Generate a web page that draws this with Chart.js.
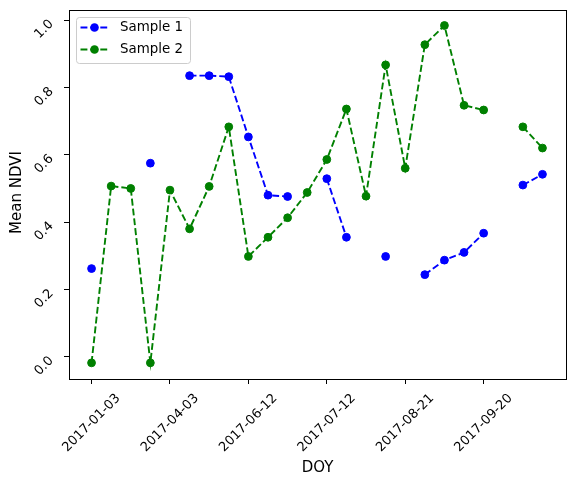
<!DOCTYPE html>
<html>
<head>
<meta charset="utf-8">
<script src="https://cdn.jsdelivr.net/npm/chart.js@4"></script>
<style>
    body { margin: 0; background: #fff; }
    #wrap { width: 574px; height: 489px; }
</style>
</head>
<body>
<div id="wrap"><canvas id="ndviChart" width="574" height="489"></canvas></div>
<script>
// observation index (categorical x axis) and the dates shown on the axis
const obsIndex = [0, 1, 2, 3, 4, 5, 6, 7, 8, 9, 10, 11, 12, 13, 14, 15, 16, 17, 18, 19, 20, 21, 22, 23];
const tickIndex = [0, 4, 8, 12, 16, 20];
const tickLabels = ['2017-01-03', '2017-04-03', '2017-06-12', '2017-07-12', '2017-08-21', '2017-09-20'];
const yTicks = [0.0, 0.2, 0.4, 0.6, 0.8, 1.0];

const sample1 = [0.262, null, null, 0.575, null, 0.835, 0.835, 0.832, 0.653, 0.480, 0.476, null,
    0.529, 0.355, null, 0.298, null, 0.244, 0.287, 0.310, 0.367, null, 0.510, 0.542];
const sample2 = [-0.018, 0.507, 0.500, -0.018, 0.495, 0.380, 0.506, 0.683, 0.298, 0.355, 0.413, 0.488,
    0.586, 0.736, 0.477, 0.867, 0.560, 0.927, 0.984, 0.747, 0.733, null, 0.683, 0.620];

const FONT = '"DejaVu Sans", sans-serif';

function series(label, values, color, order) {
    return {
        label: label,
        data: obsIndex.map((x, i) => ({ x: x, y: values[i] })),
        borderColor: color,
        backgroundColor: color,
        borderWidth: 1.9,
        borderDash: [6.9, 3],
        pointRadius: 3.9,
        pointBorderWidth: 1,
        pointBorderColor: color,
        pointBackgroundColor: color,
        spanGaps: false,
        tension: 0,
        order: order
    };
}

// frame, rotated tick labels, axis titles and the legend box
const decorations = {
    id: 'decorations',
    afterDraw(chart) {
        const ctx = chart.ctx;
        const a = chart.chartArea;
        const xs = chart.scales.x;
        const ys = chart.scales.y;
        const r = Math.SQRT1_2;
        ctx.save();

        ctx.strokeStyle = '#000';
        ctx.lineWidth = 1;
        ctx.strokeRect(Math.round(a.left) + 0.5, Math.round(a.top) + 0.5,
            Math.round(a.right - a.left), Math.round(a.bottom - a.top));

        ctx.fillStyle = '#000';
        ctx.font = '13px ' + FONT;
        ctx.textAlign = 'right';
        ctx.textBaseline = 'middle';
        const h = 9.4;

        xs.ticks.forEach((t, i) => {
            const label = tickLabels[i];
            const w = ctx.measureText(label).width;
            const px = xs.getPixelForValue(t.value);
            const ex = px + (w + h) * r / 2 - h / 2 * r;
            const ey = a.bottom + 14 + h / 2 * r;
            ctx.save();
            ctx.translate(ex, ey);
            ctx.rotate(-Math.PI / 4);
            ctx.fillText(label, 0, 0);
            ctx.restore();
        });

        ys.ticks.forEach((t) => {
            const py = ys.getPixelForValue(t.value);
            ctx.save();
            ctx.translate(a.left - 17.5, py + 2);
            ctx.rotate(-Math.PI / 4);
            ctx.fillText(t.value.toFixed(1), 0, 0);
            ctx.restore();
        });

        // axis titles
        ctx.font = '15px ' + FONT;
        ctx.textAlign = 'center';
        ctx.fillText('DOY', (a.left + a.right) / 2, a.bottom + 89.5);
        ctx.save();
        ctx.translate(17.5, (a.top + a.bottom) / 2 - 2);
        ctx.rotate(-Math.PI / 2);
        ctx.fillText('Mean NDVI', 0, 0);
        ctx.restore();

        // legend
        const lx = a.left + 7.5, ly = a.top + 7.5, lw = 114, lh = 46;
        ctx.beginPath();
        ctx.roundRect(lx, ly, lw, lh, 3);
        ctx.fillStyle = 'rgba(255,255,255,0.8)';
        ctx.fill();
        ctx.strokeStyle = '#cccccc';
        ctx.stroke();
        ctx.font = '13.4px ' + FONT;
        ctx.textAlign = 'left';
        chart.data.datasets.forEach((ds, i) => {
            const cy = ly + 10 + i * 22;
            ctx.strokeStyle = ds.borderColor;
            ctx.lineWidth = ds.borderWidth;
            ctx.setLineDash(ds.borderDash);
            ctx.beginPath();
            ctx.moveTo(lx + 4, cy);
            ctx.lineTo(lx + 32, cy);
            ctx.stroke();
            ctx.setLineDash([]);
            ctx.beginPath();
            ctx.arc(lx + 18, cy, 4.3, 0, Math.PI * 2);
            ctx.fillStyle = ds.backgroundColor;
            ctx.fill();
            ctx.fillStyle = '#000';
            ctx.fillText(ds.label, lx + 43.5, cy);
        });
        ctx.restore();
    }
};

const ctx = document.getElementById('ndviChart').getContext('2d');
const chart = new Chart(ctx, {
    type: 'line',
    data: {
        datasets: [
            series('Sample 1', sample1, '#0000ff', 1),
            series('Sample 2', sample2, '#008000', 0)
        ]
    },
    options: {
        responsive: false,
        animation: false,
        layout: { padding: { left: 0, right: 8, top: 10, bottom: 0 } },
        plugins: {
            legend: { display: false },
            tooltip: { enabled: false }
        },
        scales: {
            x: {
                type: 'linear',
                min: -1.15,
                max: 24.2,
                afterBuildTicks: (scale) => {
                    scale.ticks = tickIndex.map(v => ({ value: v }));
                },
                afterFit: (scale) => { scale.height = 110; },
                ticks: { display: false },
                border: { display: false },
                grid: {
                    drawOnChartArea: false,
                    drawTicks: true,
                    tickLength: 5,
                    color: '#000',
                    lineWidth: 1
                }
            },
            y: {
                type: 'linear',
                min: -0.066,
                max: 1.030,
                afterBuildTicks: (scale) => {
                    scale.ticks = yTicks.map(v => ({ value: v }));
                },
                afterFit: (scale) => { scale.width = 69; },
                ticks: { display: false },
                border: { display: false },
                grid: {
                    drawOnChartArea: false,
                    drawTicks: true,
                    tickLength: 5,
                    color: '#000',
                    lineWidth: 1
                }
            }
        }
    },
    plugins: [decorations]
});
</script>
</body>
</html>
